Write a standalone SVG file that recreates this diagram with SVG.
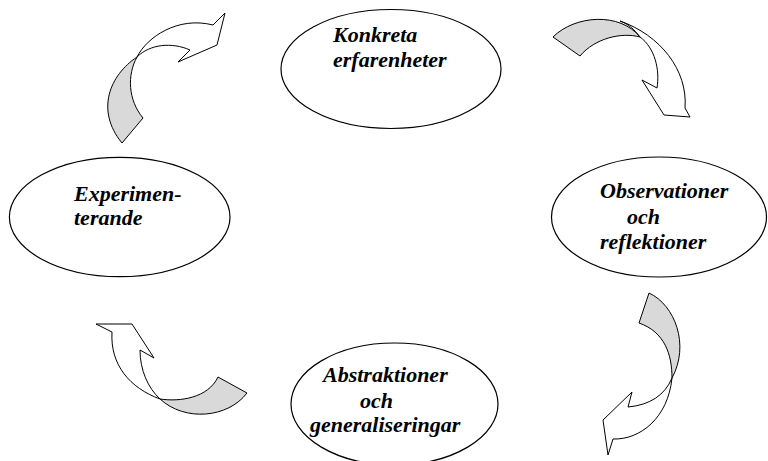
<svg xmlns="http://www.w3.org/2000/svg" width="768" height="461" viewBox="0 0 768 461">
  <style>
    .node { fill: #ffffff; stroke: #000000; stroke-width: 1.2; }
    .lbl { font-family: "Liberation Serif", "Times New Roman", serif; font-weight: bold; font-style: italic; font-size: 22px; fill: #000000; }
    .band { fill: #d9d9d9; stroke: #000000; stroke-width: 1; stroke-linejoin: miter; }
    .head { fill: #ffffff; stroke: #000000; stroke-width: 1; stroke-linejoin: miter; }
  </style>
  <rect width="768" height="461" fill="#ffffff"/>

  <!-- curved cycle arrows: shaded tail band + white arrow head -->
  <g id="connectors">
    <g id="arrow-top-left">
      <path class="band" d="M137,57 C110,75 95,110 122,143 L143,118 C128,100 127,75 137,57 Z"/>
      <path class="head" d="M137,57 C147,37 178,16 213,25 L225,13 L217,45 L178,62 L190,50 C172,42 150,44 137,57 Z"/>
    </g>
    <g id="arrow-top-right">
      <path class="head" d="M620,21 C660,35 688,70 685,108 L690,117 L664,115 L642,80 L657,88 C660,70 655,48 640,37 C634,29 628,24 620,21 Z"/>
      <path class="band" d="M553,37 C575,15 620,12 640,37 C622,32 595,38 580,56 Z"/>
    </g>
    <g id="arrow-bottom-right">
      <path class="band" d="M649,293 C675,305 690,345 672,378 C672,355 665,332 639,323 Z"/>
      <path class="head" d="M672,378 C665,395 650,405 628,407 L632,392 L603,420 L608,455 L613,439 C640,440 668,418 672,378 Z"/>
    </g>
    <g id="arrow-bottom-left">
      <path class="band" d="M160,399 C180,402 208,398 218,377 L247,393 C228,418 185,422 160,399 Z"/>
      <path class="head" d="M160,399 C148,388 140,370 140,350 L154,358 L132,324 L96,324 L112,332 C110,365 130,388 160,399 Z"/>
    </g>
  </g>

  <g id="node-konkreta">
    <ellipse class="node" cx="391" cy="69" rx="110" ry="59.5"/>
    <text class="lbl" x="333" y="42">Konkreta</text>
    <text class="lbl" x="333" y="67">erfarenheter</text>
  </g>

  <g id="node-observationer">
    <ellipse class="node" cx="659" cy="217" rx="107.5" ry="60"/>
    <text class="lbl" x="600" y="198">Observationer</text>
    <text class="lbl" x="627" y="224">och</text>
    <text class="lbl" x="600" y="249">reflektioner</text>
  </g>

  <g id="node-abstraktioner">
    <ellipse class="node" cx="394.5" cy="404" rx="103.5" ry="61"/>
    <text class="lbl" x="323" y="382">Abstraktioner</text>
    <text class="lbl" x="360" y="408">och</text>
    <text class="lbl" x="310" y="432">generaliseringar</text>
  </g>

  <g id="node-experimenterande">
    <ellipse class="node" cx="119.7" cy="217" rx="110.3" ry="59.7"/>
    <text class="lbl" x="74" y="201">Experimen-</text>
    <text class="lbl" x="74" y="225">terande</text>
  </g>
</svg>
